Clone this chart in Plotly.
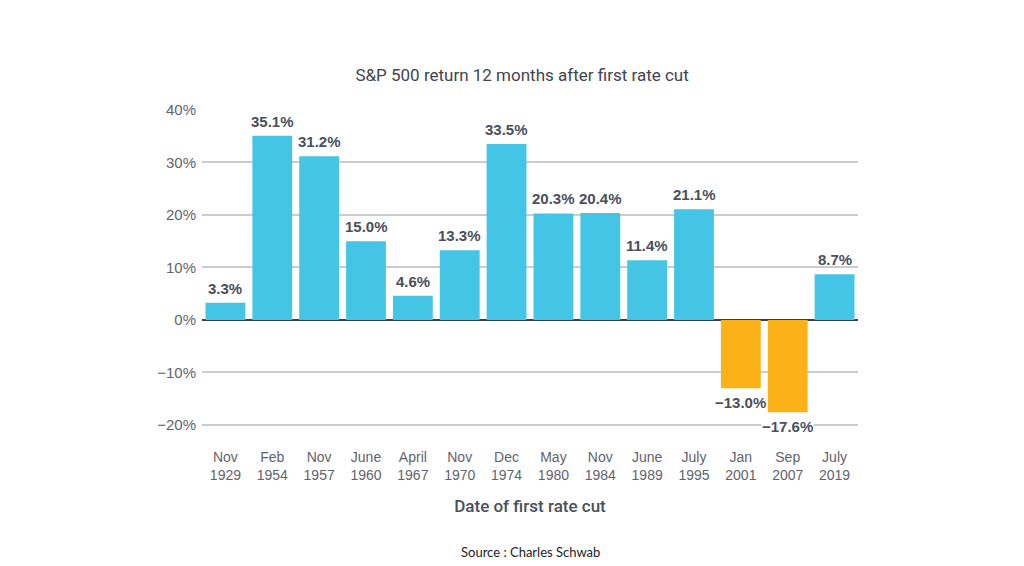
import plotly.graph_objects as go

categories = ["Nov<br>1929", "Feb<br>1954", "Nov<br>1957", "June<br>1960", "April<br>1967",
              "Nov<br>1970", "Dec<br>1974", "May<br>1980", "Nov<br>1984", "June<br>1989",
              "July<br>1995", "Jan<br>2001", "Sep<br>2007", "July<br>2019"]
returns = [3.3, 35.1, 31.2, 15.0, 4.6, 13.3, 33.5, 20.3, 20.4, 11.4, 21.1, -13.0, -17.6, 8.7]
tick_vals = [-20, -10, 0, 10, 20, 30, 40]
tick_text = ["\u221220%", "\u221210%", "0%", "10%", "20%", "30%", "40%"]

BLUE = "#44c5e5"
ORANGE = "#fbb117"
colors = [BLUE if v >= 0 else ORANGE for v in returns]

fig = go.Figure()
fig.add_trace(go.Bar(
    x=categories, y=returns, marker=dict(color=colors, line=dict(width=0)),
    hoverinfo="skip",
))

for c, v in zip(categories, returns):
    label = (f"{v:.1f}%" if v >= 0 else f"\u2212{abs(v):.1f}%")
    fig.add_annotation(
        x=c, y=v, text=f"<b>{label}</b>", showarrow=False,
        yanchor="bottom" if v >= 0 else "top",
        yshift=5 if v >= 0 else -5,
        font=dict(family="Liberation Sans, Arial", size=15, color="#4a4f5c"),
        bgcolor="white" if v < 0 else None,
        borderpad=0,
    )

fig.add_annotation(
    text="Source : Charles Schwab", xref="paper", yref="paper", x=0.5, y=0,
    xanchor="center", yanchor="middle", yshift=-105, showarrow=False,
    font=dict(family="Lato, sans-serif", size=13, color="#222222"),
)

fig.update_layout(
    width=1016, height=558,
    paper_bgcolor="white", plot_bgcolor="white",
    margin=dict(l=194, r=166, t=102, b=119),
    title=dict(text="S&P 500 return 12 months after first rate cut", x=0.506, xanchor="center",
               y=0.880, yanchor="middle",
               font=dict(family="Roboto, Liberation Sans", size=17, color="#3f444e")),
    bargap=0.15,
    showlegend=False,
    font=dict(family="Liberation Sans, Arial"),
)
fig.update_xaxes(
    tickfont=dict(size=14, color="#5f636d"), showgrid=False, showline=False, ticks="",
    title=dict(text="Date of first rate cut",
               font=dict(family="Roboto, Liberation Sans", size=17, color="#4a4f5c", weight=500),
               standoff=17),
)
fig.update_yaxes(
    range=[-24.2, 40], tickvals=tick_vals, ticktext=tick_text,
    tickfont=dict(size=15, color="#5f636d"), showgrid=True, gridcolor="#c9cdd2", gridwidth=1.5,
    zeroline=True, zerolinecolor="#3a3f4a", zerolinewidth=1.5, showline=False, ticks="",
    ticklabelstandoff=5,
)
fig.write_html("out.html")
